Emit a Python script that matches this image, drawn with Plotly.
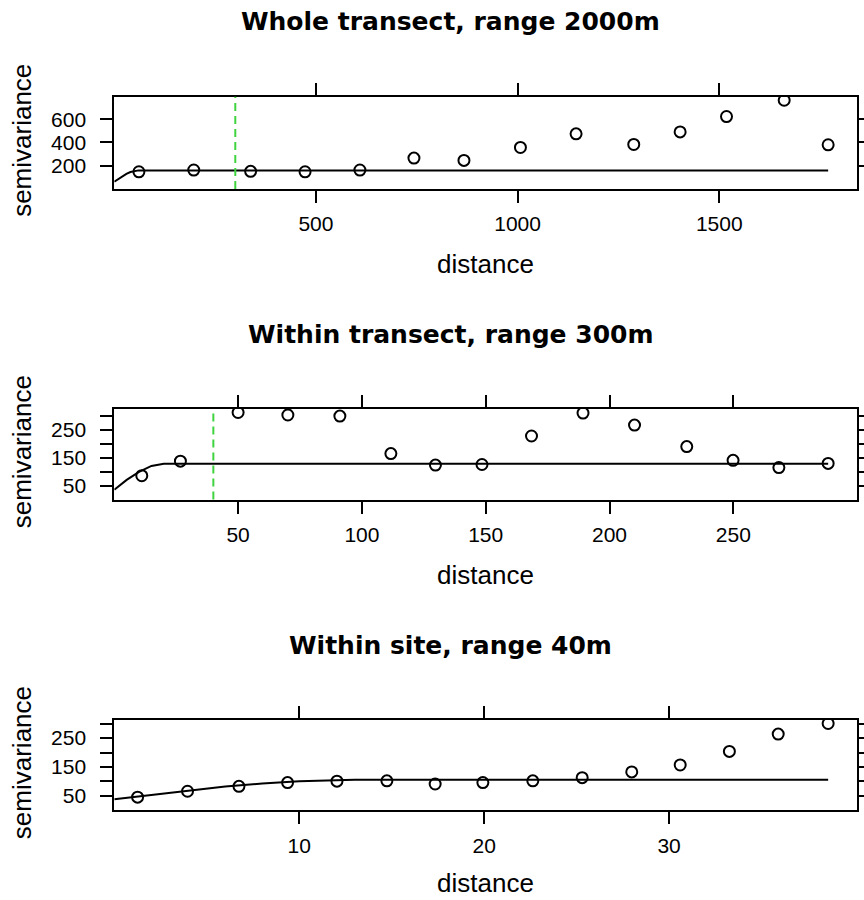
import plotly.graph_objects as go

# ---------------- data ----------------
titles = ["Whole transect, range 2000m", "Within transect, range 300m", "Within site, range 40m"]

dist1 = [61, 197, 338, 473, 609, 743, 867, 1007, 1145, 1288, 1403, 1518, 1661, 1770]
gamma1 = [148, 163, 152, 148, 163, 266, 246, 357, 474, 383, 491, 623, 763, 380]
model_d1 = [0, 10, 20, 30, 40, 50, 60, 1770]
model_g1 = [63, 87, 110, 130, 146, 156, 160, 160]
range_line1 = 300

dist2 = [11.1, 26.7, 50.0, 70.1, 91.1, 111.7, 129.7, 148.5, 168.5, 189.3, 210.1, 231.2, 249.9, 268.4, 288.3]
gamma2 = [85, 137, 311, 302, 298, 164, 123, 125, 227, 309, 266, 189, 140, 114, 129]
model_d2 = [0, 5, 10, 15, 20, 288.3]
model_g2 = [35, 70, 99, 120, 128, 128]
range_line2 = 40

dist3 = [1.26, 3.96, 6.74, 9.37, 12.04, 14.74, 17.35, 19.93, 22.63, 25.3, 27.98, 30.6, 33.26, 35.9, 38.6]
gamma3 = [45.5, 66, 83, 96, 101, 102, 91, 96, 102, 113, 133, 157, 204, 264, 300.7]
model_d3 = [0, 2, 4, 6, 8, 10, 12, 13, 38.6]
model_g3 = [38, 54, 68, 82, 93, 101, 105, 106, 106]

xtick1 = [500, 1000, 1500]
ytick1 = [200, 400, 600]
ylab1 = ["200", "400", "600"]
xtick2 = [50, 100, 150, 200, 250]
ytick2 = [50, 100, 150, 200, 250, 300]
ylab2 = ["50", "", "150", "", "250", ""]
xtick3 = [10, 20, 30]
ytick3 = [50, 100, 150, 200, 250, 300]
ylab3 = ["50", "", "150", "", "250", ""]

# ---------------- figure ----------------
W, H = 864, 900
fig = go.Figure()

panels = [
    dict(d=dist1, g=gamma1, md=model_d1, mg=model_g1, rl=range_line1,
         xt=xtick1, yt=ytick1, yl=ylab1, box=(96.7, 189.0), xlab_off=75),
    dict(d=dist2, g=gamma2, md=model_d2, mg=model_g2, rl=range_line2,
         xt=xtick2, yt=ytick2, yl=ylab2, box=(409.0, 499.5), xlab_off=75),
    dict(d=dist3, g=gamma3, md=model_d3, mg=model_g3, rl=None,
         xt=xtick3, yt=ytick3, yl=ylab3, box=(720.0, 810.3), xlab_off=73),
]

x_left, x_right = 114.3, 856.7
tick_font = dict(family="Liberation Sans, Arial, sans-serif", size=21, color="black")
lab_font = dict(family="Liberation Sans, Arial, sans-serif", size=26, color="black")
title_font = dict(family="DejaVu Sans, sans-serif", size=25, color="black")

annotations = []
shapes = []
for i, p in enumerate(panels):
    n = "" if i == 0 else str(i + 1)
    xa, ya = "x" + n, "y" + n
    top, bot = p["box"]
    xr = [0, 1.04 * max(p["d"])]
    yr = [0, 1.04 * max(p["g"])]

    fig.add_trace(go.Scatter(x=p["md"], y=p["mg"], mode="lines",
                             line=dict(color="black", width=2),
                             xaxis=xa, yaxis=ya, showlegend=False, hoverinfo="skip"))
    fig.add_trace(go.Scatter(x=p["d"], y=p["g"], mode="markers",
                             marker=dict(symbol="circle-open", size=11,
                                         color="black", line=dict(width=2, color="black")),
                             xaxis=xa, yaxis=ya, showlegend=False))
    if p["rl"] is not None:
        shapes.append(dict(type="line", xref=xa, yref=ya + " domain",
                           x0=p["rl"], x1=p["rl"], y0=0, y1=1,
                           line=dict(color="#3fd33f", width=2, dash="8px,5px")))

    axis_common = dict(showgrid=False, zeroline=False, showline=True, linecolor="black",
                       linewidth=2, mirror="ticks", ticks="outside", ticklen=12,
                       tickwidth=2, tickcolor="black", tickfont=tick_font,
                       automargin=False)
    fig.layout["xaxis" + n] = dict(domain=[x_left / W, x_right / W], range=xr,
                                   anchor=ya, tickvals=p["xt"], ticklabelstandoff=3,
                                   **axis_common)
    fig.layout["yaxis" + n] = dict(domain=[1 - bot / H, 1 - top / H], range=yr,
                                   anchor=xa, tickvals=p["yt"], ticktext=p["yl"],
                                   ticklabelstandoff=10, **axis_common)

    # panel title
    annotations.append(dict(text="<b>" + titles[i] + "</b>", x=451 / W, y=1 - (top - 75) / H,
                            xref="paper", yref="paper", showarrow=False,
                            xanchor="center", yanchor="middle", font=title_font))
    # x label
    annotations.append(dict(text="distance", x=(x_left + x_right) / 2 / W,
                            y=1 - (bot + p["xlab_off"]) / H,
                            xref="paper", yref="paper", showarrow=False,
                            xanchor="center", yanchor="middle", font=lab_font))
    # y label
    annotations.append(dict(text="semivariance", x=22 / W, y=1 - ((top + bot) / 2 - 2) / H,
                            xref="paper", yref="paper", showarrow=False, textangle=-90,
                            xanchor="center", yanchor="middle", font=lab_font))

fig.update_layout(width=W, height=H, margin=dict(l=0, r=0, t=0, b=0, autoexpand=False),
                  paper_bgcolor="white", plot_bgcolor="white",
                  annotations=annotations, shapes=shapes, showlegend=False)

post = (
    "document.documentElement.style.margin='0px';"
    "document.documentElement.style.overflow='hidden';"
    "document.body.style.margin='0px';"
    "document.body.style.overflow='hidden';"
)
fig.write_html("out.html", config={"displayModeBar": False}, post_script=post)
